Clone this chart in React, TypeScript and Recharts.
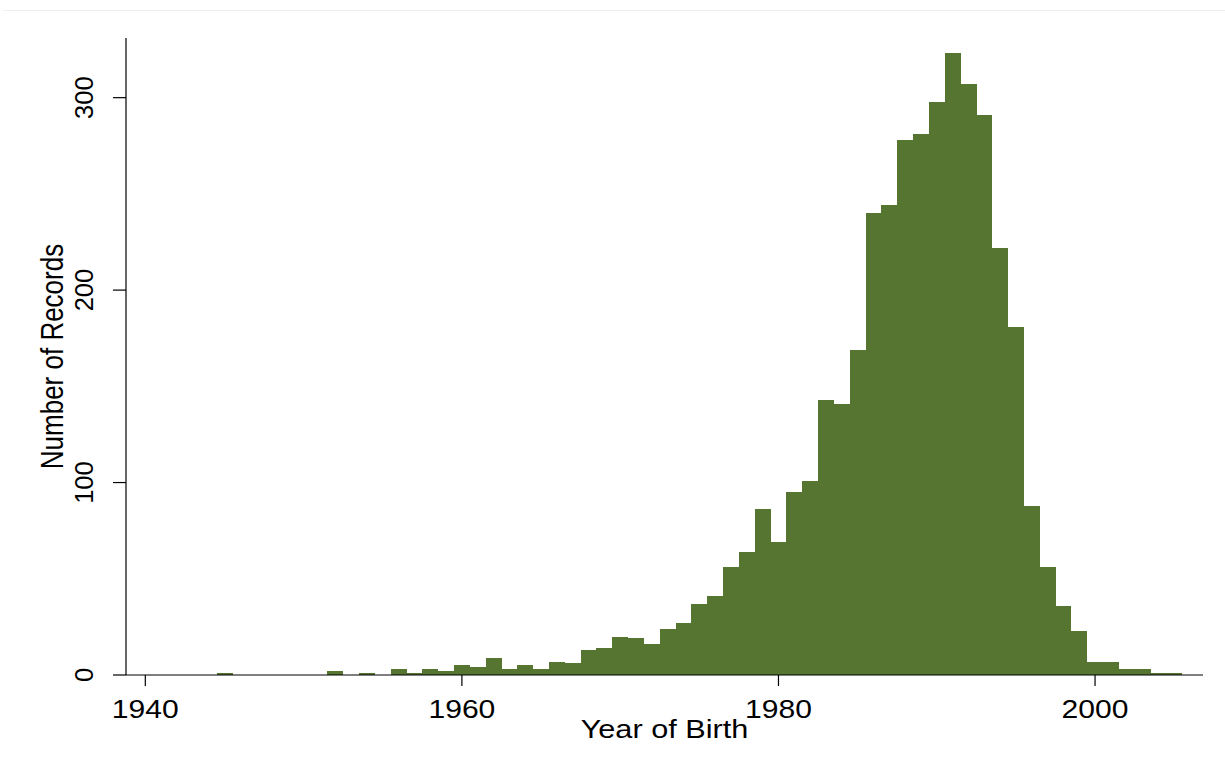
import React from "react";
import { BarChart, Bar, XAxis, YAxis } from "recharts";

const years = [
  1945, 1952, 1954, 1956, 1957, 1958, 1959, 1960, 1961, 1962, 1963, 1964, 1965,
  1966, 1967, 1968, 1969, 1970, 1971, 1972, 1973, 1974, 1975, 1976, 1977, 1978,
  1979, 1980, 1981, 1982, 1983, 1984, 1985, 1986, 1987, 1988, 1989, 1990, 1991,
  1992, 1993, 1994, 1995, 1996, 1997, 1998, 1999, 2000, 2001, 2002, 2003, 2004,
  2005,
];
const records = [
  1, 2, 1, 3, 1, 3, 2, 5, 4, 9, 3, 5, 3,
  7, 6, 13, 14, 20, 19, 16, 24, 27, 37, 41, 56, 64,
  86, 69, 95, 101, 143, 141, 169, 240, 244, 278, 281, 298, 323,
  307, 291, 222, 181, 88, 56, 36, 23, 7, 7, 3, 3, 1,
  1,
];
const xTicks = [1940, 1960, 1980, 2000];
const yTicks = [0, 100, 200, 300];

const data = years.map((y, i) => ({ year: y, n: records[i] }));

const FONT = "'Liberation Sans', Arial, Helvetica, sans-serif";

const XTick = (props: any) => {
  const { x, y, payload } = props;
  return (
    <text
      transform={`translate(${x},${y + 30}) scale(1.18,1)`}
      textAnchor="middle"
      fontSize={25.5}
      fontFamily={FONT}
      fill="#000"
    >
      {payload.value}
    </text>
  );
};

const YTick = (props: any) => {
  const { x, y, payload } = props;
  return (
    <text
      transform={`translate(${x - 18},${y}) rotate(-90)`}
      textAnchor="middle"
      fontSize={25.5}
      fontFamily={FONT}
      fill="#000"
    >
      {payload.value}
    </text>
  );
};

const XTitle = (props: any) => {
  const vb = props.viewBox || { x: 126, y: 675, width: 1077, height: 60 };
  return (
    <text
      transform={`translate(${vb.x + vb.width / 2},${vb.y + 63}) scale(1.18,1)`}
      textAnchor="middle"
      fontSize={26}
      fontFamily={FONT}
      fill="#000"
    >
      Year of Birth
    </text>
  );
};

const YTitle = (props: any) => {
  const vb = props.viewBox || { x: 66, y: 38, width: 60, height: 637 };
  return (
    <text
      transform={`translate(${vb.x - 3},${vb.y + vb.height / 2}) scale(1.18,1) rotate(-90)`}
      textAnchor="middle"
      fontSize={26}
      fontFamily={FONT}
      fill="#000"
    >
      Number of Records
    </text>
  );
};

export default function App() {
  return (
    <div
      style={{
        position: "absolute",
        left: 0,
        top: 0,
        width: 1225,
        height: 773,
        background: "#fff",
      }}
    >
      <div
        style={{
          position: "absolute",
          left: 3,
          top: 10,
          width: 1222,
          height: 1,
          background: "#eeeeee",
        }}
      />
      <BarChart
        width={1225}
        height={773}
        data={data}
        margin={{ top: 38, right: 22, left: 66, bottom: 38 }}
        barCategoryGap={0}
        barGap={0}
      >
        <XAxis
          dataKey="year"
          type="number"
          domain={[1938.78, 2006.82]}
          ticks={xTicks}
          allowDataOverflow
          interval={0}
          height={60}
          tickSize={11}
          tickMargin={2}
          axisLine={{ stroke: "#000", strokeWidth: 1.2 }}
          tickLine={{ stroke: "#000", strokeWidth: 1.2 }}
          tick={<XTick />}
          label={<XTitle />}
        />
        <YAxis
          type="number"
          domain={[0, 331]}
          ticks={yTicks}
          allowDataOverflow
          interval={0}
          width={60}
          tickSize={13}
          tickMargin={2}
          axisLine={{ stroke: "#000", strokeWidth: 1.2 }}
          tickLine={{ stroke: "#000", strokeWidth: 1.2 }}
          tick={<YTick />}
          label={<YTitle />}
        />
        <Bar
          dataKey="n"
          fill="#557530"
          stroke="none"
          shapeRendering="crispEdges"
          isAnimationActive={false}
        />
      </BarChart>
    </div>
  );
}
